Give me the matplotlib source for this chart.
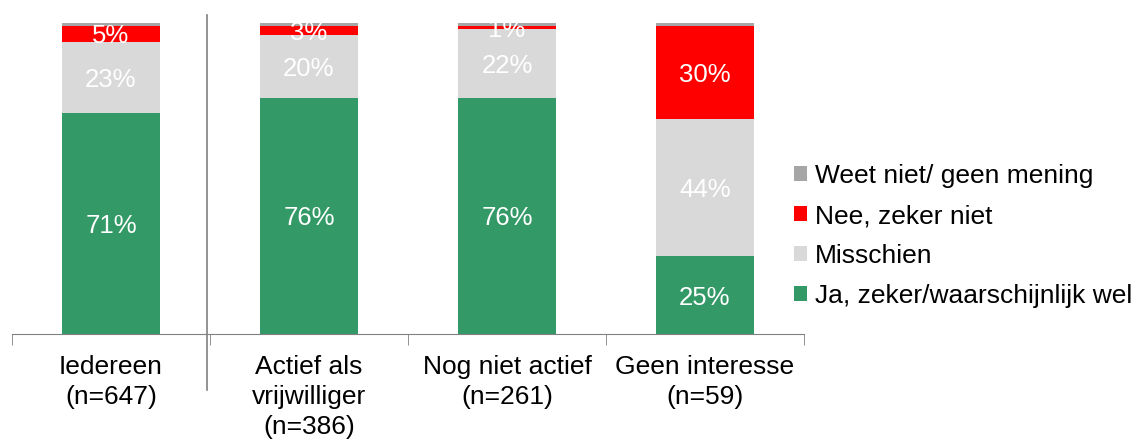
import matplotlib
matplotlib.use("Agg")
import matplotlib.pyplot as plt
from matplotlib.patches import Patch
from matplotlib.lines import Line2D
import numpy as np

plt.rcParams['font.family'] = ['Liberation Sans', 'DejaVu Sans']

categories = ["Iedereen\n(n=647)", "Actief als\nvrijwilliger\n(n=386)",
              "Nog niet actief\n(n=261)", "Geen interesse\n(n=59)"]
series_names = ["Ja, zeker/waarschijnlijk wel", "Misschien", "Nee, zeker niet",
                "Weet niet/ geen mening"]
ja = [71, 76, 76, 25]
misschien = [23, 20, 22, 44]
nee = [5, 3, 1, 30]
weet_niet = [1, 1, 1.5, 1]
series = [ja, misschien, nee, weet_niet]
show_labels = [True, True, True, False]
colors = ["#339966", "#D9D9D9", "#FF0000", "#A6A6A6"]

fig = plt.figure(figsize=(11.36, 4.4), dpi=100)
ax = fig.add_axes([12/1136, 1 - 334/440, (804-12)/1136, (334-23)/440])

x = np.arange(len(categories))
bottom = np.zeros(len(categories))
for vals, col, lab in zip(series, colors, show_labels):
    vals = np.array(vals, dtype=float)
    ax.bar(x, vals, bottom=bottom, width=0.495, color=col, edgecolor='none')
    if lab:
        for xi, v, b in zip(x, vals, bottom):
            ax.text(xi, b + v/2, f"{int(round(v))}%", ha='center', va='center_baseline',
                    color='white', fontsize=18.5)
    bottom += vals

ax.set_xlim(-0.5, 3.5)
ax.set_ylim(0, 100)
for s in ['left', 'right', 'top']:
    ax.spines[s].set_visible(False)
ax.spines['bottom'].set_color('#808080')
ax.set_yticks([])
ax.set_xticks(x)
ax.set_xticklabels(categories, fontsize=19, linespacing=1.32)
ax.tick_params(axis='x', which='major', length=0, pad=15)
ax.set_xticks(np.arange(-0.5, 4.0, 1.0), minor=True)
ax.tick_params(axis='x', which='minor', length=8, color='#808080', direction='out')

# vertical separator
fig.add_artist(Line2D([207/1136, 207/1136], [1 - 15/440, 1 - 390/440],
                      color='#808080', lw=1.2))

handles = [Patch(facecolor=c, edgecolor='none') for c in colors][::-1]
leg = fig.legend(handles, series_names[::-1], loc='center left',
                 bbox_to_anchor=(783/1136, 1 - 236/440), frameon=False,
                 fontsize=19, handlelength=0.5, handleheight=0.5,
                 handletextpad=0.3, labelspacing=0.6, borderaxespad=0)

fig.savefig("out.png", dpi=100)
